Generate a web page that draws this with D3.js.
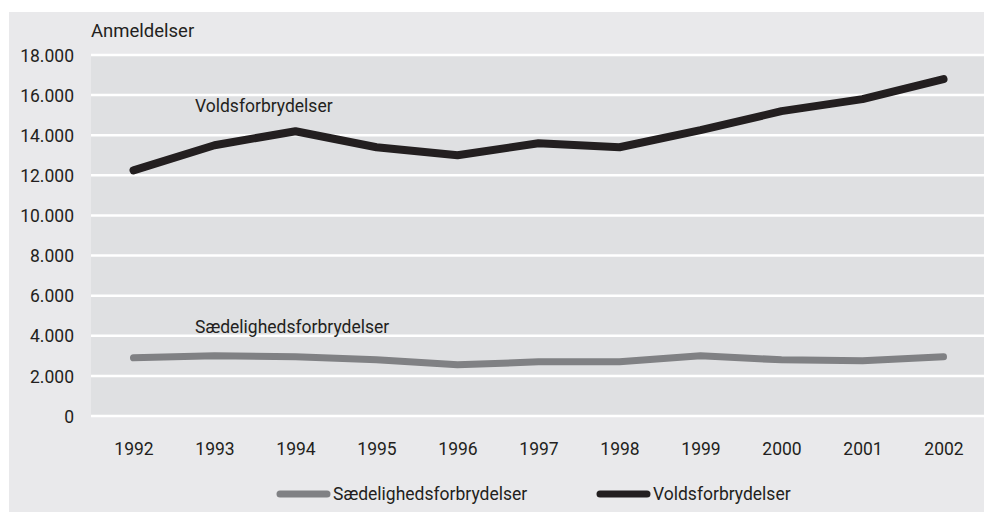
<!DOCTYPE html>
<html>
<head>
<meta charset="utf-8">
<script src="https://cdn.jsdelivr.net/npm/d3@7"></script>
<style>
  body { margin: 0; background: #fff; }
  text { font-family: Roboto, "Open Sans", sans-serif; fill: #231f20; }
</style>
</head>
<body>
<div id="chart"></div>
<script>
// Data
var years = ['1992','1993','1994','1995','1996','1997','1998','1999','2000','2001','2002'];
var volds = [12250, 13500, 14200, 13400, 13000, 13600, 13400, 14250, 15200, 15800, 16800];
var saed  = [2900, 3000, 2950, 2800, 2550, 2700, 2700, 3000, 2800, 2750, 2950];
var yTicks = [0, 2000, 4000, 6000, 8000, 10000, 12000, 14000, 16000, 18000];

var W = 984, H = 512;
var svg = d3.select('#chart').append('svg')
  .attr('width', W).attr('height', H);

// outer panel
svg.append('rect')
  .attr('x', 9).attr('y', 12).attr('width', W - 9).attr('height', H - 12)
  .style('fill', '#e9e9eb');

var x = d3.scalePoint().domain(years).range([93, 984]).padding(0.5);
var y = d3.scaleLinear().domain([0, 18000]).range([416, 55]);

// plot area
svg.append('rect')
  .attr('x', 91).attr('y', y(18000))
  .attr('width', W - 91).attr('height', y(0) - y(18000))
  .style('fill', '#dfe0e2');

// gridlines
svg.selectAll('.grid').data(yTicks).enter().append('line')
  .attr('x1', 91).attr('x2', W)
  .attr('y1', function(d) { return y(d); })
  .attr('y2', function(d) { return y(d); })
  .style('stroke', '#fff').style('stroke-width', 2.5);

// y axis labels
var yAxis = d3.axisLeft(y).tickValues(yTicks).tickSize(0).tickPadding(0)
  .tickFormat(function(d) { return d3.format(',')(d).replace(/,/g, '.'); });
var gy = svg.append('g').attr('transform', 'translate(74,0)').call(yAxis);
gy.select('.domain').remove();
gy.selectAll('text').style('font-size', '17.5px').attr('dy', '0.35em');

// x axis labels
var xAxis = d3.axisBottom(x).tickSize(0).tickPadding(0);
var gx = svg.append('g').attr('transform', 'translate(0,443)').call(xAxis);
gx.select('.domain').remove();
gx.selectAll('text').style('font-size', '17.5px').attr('dy', '0.71em');

// y title
svg.append('text').attr('x', 91).attr('y', 37)
  .style('font-size', '18.5px').text('Anmeldelser');

// lines
var line = d3.line()
  .x(function(d, i) { return x(years[i]); })
  .y(function(d) { return y(d); });

svg.append('path').datum(saed).attr('d', line)
  .style('fill', 'none').style('stroke', '#808184')
  .style('stroke-width', 7).style('stroke-linecap', 'round').style('stroke-linejoin', 'round');

svg.append('path').datum(volds).attr('d', line)
  .style('fill', 'none').style('stroke', '#231f20')
  .style('stroke-width', 8).style('stroke-linecap', 'round').style('stroke-linejoin', 'round');

// in-chart labels
svg.append('text').attr('x', 195).attr('y', y(15150))
  .style('font-size', '17.5px').text('Voldsforbrydelser');
svg.append('text').attr('x', 195).attr('y', y(4160))
  .style('font-size', '17.5px').text('Sædelighedsforbrydelser');

// legend
var legend = [
  { name: 'Sædelighedsforbrydelser', color: '#808184', x: 277 },
  { name: 'Voldsforbrydelser', color: '#231f20', x: 597 }
];
var lg = svg.selectAll('.leg').data(legend).enter().append('g')
  .attr('transform', function(d) { return 'translate(' + d.x + ',494)'; });
lg.append('line').attr('x1', 3).attr('x2', 50)
  .style('stroke', function(d) { return d.color; })
  .style('stroke-width', 7).style('stroke-linecap', 'round');
lg.append('text').attr('x', 56).attr('y', 0).attr('dy', '0.35em')
  .style('font-size', '17.5px').text(function(d) { return d.name; });
</script>
</body>
</html>
